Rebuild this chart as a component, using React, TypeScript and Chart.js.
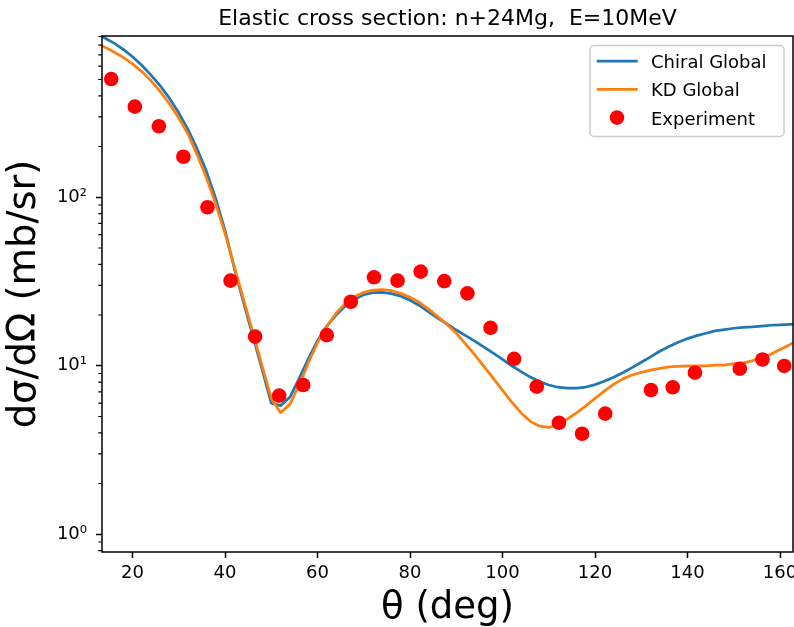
import { useEffect, useRef } from "react";
import { Chart, registerables } from "chart.js";

Chart.register(...registerables);

const FONT = "'DejaVu Sans', 'Liberation Sans', sans-serif";

const chartTitle = "Elastic cross section: n+24Mg,  E=10MeV";
const xAxisTitle = "θ (deg)";
const yAxisTitle = "dσ/dΩ (mb/sr)";

// Calculated angular grid (deg)
const calcAngles = [
  12, 14, 16, 18, 20, 22, 24, 26, 28, 30, 32, 34, 36, 38, 40, 42, 44, 46, 48, 50,
  52, 54, 56, 58, 60, 62, 64, 66, 68, 70, 72, 74, 76, 78, 80, 82, 84, 86, 88, 90,
  92, 94, 96, 98, 100, 102, 104, 106, 108, 110, 112, 114, 116, 118, 120, 122, 124,
  126, 128, 130, 132, 134, 136, 138, 140, 142, 144, 146, 148, 150, 152, 154, 156,
  158, 160, 162, 164,
];

// Chiral global optical potential (mb/sr)
const chiralGlobal = [
  931, 881, 822, 755, 682, 607, 531, 458, 386, 317, 252, 193, 142, 98, 63.5, 38.0,
  23.8, 15.1, 9.55, 6.0, 5.8, 6.5, 8.37, 11.0, 14.1, 17.2, 20.0, 22.6, 24.8, 26.4,
  27.2, 27.3, 26.8, 25.9, 24.5, 22.8, 20.9, 19.2, 17.7, 16.3, 15.1, 14.0, 12.9,
  11.9, 10.9, 10.0, 9.23, 8.57, 8.05, 7.69, 7.46, 7.36, 7.36, 7.48, 7.73, 8.09,
  8.55, 9.1, 9.75, 10.5, 11.3, 12.2, 13.0, 13.8, 14.5, 15.1, 15.6, 16.1, 16.4,
  16.7, 16.9, 17.0, 17.2, 17.4, 17.5, 17.6, 17.6,
];

// Koning-Delaroche global optical potential (mb/sr)
const kdGlobal = [
  826, 778, 728, 676, 619, 557, 491, 424, 358, 296, 237, 178, 130, 91.2, 61.0,
  38.9, 24.8, 15.8, 10.0, 6.4, 5.27, 5.9, 7.69, 10.4, 13.7, 17.1, 20.5, 23.4,
  25.7, 27.3, 28.1, 28.3, 27.9, 26.9, 25.5, 23.8, 21.7, 19.6, 17.6, 15.6, 13.5,
  11.6, 9.89, 8.41, 7.14, 6.08, 5.25, 4.68, 4.38, 4.31, 4.47, 4.83, 5.26, 5.78,
  6.4, 7.08, 7.76, 8.36, 8.81, 9.14, 9.42, 9.66, 9.84, 9.93, 9.98, 10.0, 10.0,
  10.1, 10.1, 10.3, 10.4, 10.7, 11.2, 11.7, 12.5, 13.3, 14.3,
];

// Measured data
const expAngles = [
  15.4, 20.5, 25.7, 31.0, 36.2, 41.2, 46.5, 51.7, 56.9, 62.0, 67.2, 72.2, 77.3,
  82.3, 87.4, 92.4, 97.4, 102.5, 107.4, 112.2, 117.2, 122.2, 132.1, 136.8, 141.6,
  151.3, 156.2, 160.9,
];
const expValues = [
  503, 345, 264, 174, 87.3, 32.0, 14.9, 6.65, 7.69, 15.2, 24.0, 33.5, 32.0, 36.2,
  31.8, 26.9, 16.8, 11.0, 7.52, 4.59, 3.95, 5.2, 7.18, 7.45, 9.1, 9.61, 10.9, 9.98,
];

const xTicks = [20, 40, 60, 80, 100, 120, 140, 160];
const yTicks = [1, 10, 100];
const yTickLabels = ["10⁰", "10¹", "10²"];
const yMinorTicks = [
  0.8, 0.9, 2, 3, 4, 5, 6, 7, 8, 9, 20, 30, 40, 50, 60, 70, 80, 90, 200, 300, 400,
  500, 600, 700, 800, 900,
];

const seriesColors = ["#1f77b4", "#ff7f0e", "#ff0000"];

// Draws the frame, minor log ticks, the title and the in-plot legend
const decorations = {
  id: "decorations",
  afterDatasetsDraw(chart: any) {
    const { ctx, chartArea } = chart;
    const { left, right, top, bottom } = chartArea;
    const yScale = chart.scales.y;
    ctx.save();

    // minor ticks on the log axis
    ctx.strokeStyle = "#000";
    ctx.lineWidth = 1.1;
    ctx.beginPath();
    for (const v of yMinorTicks) {
      const py = yScale.getPixelForValue(v);
      if (py < top - 0.5 || py > bottom + 0.5) continue;
      ctx.moveTo(left - 3.7, py);
      ctx.lineTo(left, py);
    }
    ctx.stroke();

    // axes frame
    ctx.lineWidth = 1.5;
    ctx.strokeRect(left, top, right - left, bottom - top);

    // title
    ctx.fillStyle = "#000";
    ctx.font = `22px ${FONT}`;
    ctx.textAlign = "center";
    ctx.textBaseline = "alphabetic";
    ctx.fillText(chartTitle, (left + right) / 2, 25);

    // legend
    const boxW = 194;
    const boxH = 91;
    const bx = right - 9 - boxW;
    const by = top + 9.5;
    ctx.beginPath();
    ctx.roundRect(bx, by, boxW, boxH, 4);
    ctx.fillStyle = "rgba(255,255,255,0.8)";
    ctx.fill();
    ctx.strokeStyle = "#cccccc";
    ctx.lineWidth = 1.5;
    ctx.stroke();

    ctx.font = `18px ${FONT}`;
    ctx.textAlign = "left";
    chart.data.datasets.forEach((ds: any, i: number) => {
      const rowY = by + 15.5 + i * 28.3;
      if (ds.showLine) {
        ctx.strokeStyle = ds.borderColor;
        ctx.lineWidth = ds.borderWidth;
        ctx.beginPath();
        ctx.moveTo(bx + 6.7, rowY);
        ctx.lineTo(bx + 47.7, rowY);
        ctx.stroke();
      } else {
        ctx.fillStyle = ds.pointBackgroundColor;
        ctx.beginPath();
        ctx.arc(bx + 27, rowY, ds.pointRadius, 0, Math.PI * 2);
        ctx.fill();
      }
      ctx.fillStyle = "#000";
      ctx.fillText(ds.label, bx + 61, rowY + 7);
    });

    ctx.restore();
  },
};

export default function App() {
  const canvasRef = useRef<HTMLCanvasElement | null>(null);

  useEffect(() => {
    const canvas = canvasRef.current;
    if (!canvas) return;

    const chart = new Chart(canvas, {
      type: "scatter",
      data: {
        datasets: [
          {
            label: "Chiral Global",
            data: calcAngles.map((x, i) => ({ x, y: chiralGlobal[i] })),
            showLine: true,
            borderColor: seriesColors[0],
            backgroundColor: seriesColors[0],
            borderWidth: 2.75,
            borderJoinStyle: "round",
            pointRadius: 0,
            tension: 0,
            order: 2,
          },
          {
            label: "KD Global",
            data: calcAngles.map((x, i) => ({ x, y: kdGlobal[i] })),
            showLine: true,
            borderColor: seriesColors[1],
            backgroundColor: seriesColors[1],
            borderWidth: 2.75,
            borderJoinStyle: "round",
            pointRadius: 0,
            tension: 0,
            order: 1,
          },
          {
            label: "Experiment",
            data: expAngles.map((x, i) => ({ x, y: expValues[i] })),
            showLine: false,
            pointRadius: 7.3,
            pointBorderWidth: 0,
            pointBackgroundColor: seriesColors[2],
            backgroundColor: seriesColors[2],
            borderColor: seriesColors[2],
            order: 0,
          },
        ],
      },
      options: {
        responsive: false,
        animation: false,
        devicePixelRatio: 1,
        events: [],
        layout: { autoPadding: false, padding: { top: 36, right: 1, left: 0, bottom: 0 } },
        plugins: {
          legend: { display: false },
          tooltip: { enabled: false },
          title: { display: false },
        },
        scales: {
          x: {
            type: "linear",
            min: 13.4,
            max: 162.8,
            afterFit: (scale: any) => {
              scale.height = 75;
              scale.paddingLeft = 0;
              scale.paddingRight = 0;
            },
            afterBuildTicks: (scale: any) => {
              scale.ticks = xTicks.map((value) => ({ value }));
            },
            border: { display: false },
            grid: {
              drawOnChartArea: false,
              drawTicks: true,
              tickLength: 6,
              tickWidth: 1.5,
              tickColor: "#000",
            },
            ticks: {
              color: "#000",
              font: { family: FONT, size: 18 },
              padding: 4.5,
              maxRotation: 0,
              callback: (v: any) => String(v),
            },
            title: {
              display: true,
              text: xAxisTitle,
              color: "#000",
              font: { family: FONT, size: 37, lineHeight: 1.0 },
              padding: { top: 0, bottom: 0 },
            },
          },
          y: {
            type: "logarithmic",
            min: 0.785,
            max: 906,
            afterFit: (scale: any) => {
              scale.width = 102;
              scale.paddingTop = 0;
              scale.paddingBottom = 0;
            },
            afterBuildTicks: (scale: any) => {
              scale.ticks = yTicks.map((value) => ({ value }));
            },
            border: { display: false },
            grid: {
              drawOnChartArea: false,
              drawTicks: true,
              tickLength: 6,
              tickWidth: 1.5,
              tickColor: "#000",
            },
            ticks: {
              color: "#000",
              font: { family: FONT, size: 18 },
              padding: 9,
              callback: (v: any) => {
                const idx = yTicks.indexOf(Number(v));
                return idx >= 0 ? yTickLabels[idx] : "";
              },
            },
            title: {
              display: true,
              text: yAxisTitle,
              color: "#000",
              font: { family: FONT, size: 38.5, lineHeight: 1.2 },
              padding: { top: 1.5, bottom: 0 },
            },
          },
        },
      },
      plugins: [decorations],
    } as any);

    return () => chart.destroy();
  }, []);

  return (
    <div style={{ position: "fixed", left: 0, top: 0, width: 794, height: 627, background: "#fff" }}>
      <canvas ref={canvasRef} width={794} height={627} style={{ display: "block" }} />
    </div>
  );
}
